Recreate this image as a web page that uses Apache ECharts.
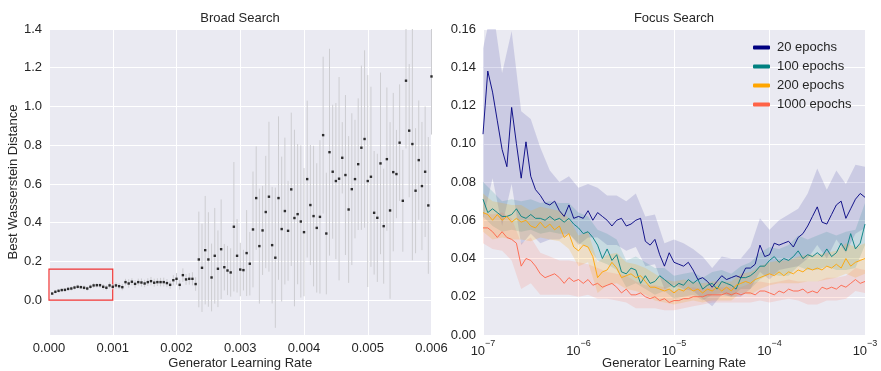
<!DOCTYPE html>
<html>
<head>
<meta charset="utf-8">
<title>Broad Search / Focus Search</title>
<script src="https://cdn.jsdelivr.net/npm/echarts@6/dist/echarts.min.js"></script>
<style>
  html, body { margin: 0; padding: 0; background: #ffffff; }
  #main { width: 881px; height: 371px; }
</style>
</head>
<body>
<div id="main"></div>
<script>
// ---- broad search: mean best distance and spread per learning rate ----
var broadStep = 0.00005; // spacing of the sweep
var broadValues = [
  0.034, 0.043, 0.048, 0.052, 0.053, 0.058, 0.060, 0.065, 0.069, 0.067,
  0.064, 0.060, 0.069, 0.076, 0.077, 0.077, 0.069, 0.064, 0.076, 0.069,
  0.076, 0.072, 0.067, 0.093, 0.086, 0.095, 0.084, 0.093, 0.091, 0.086,
  0.093, 0.098, 0.090, 0.093, 0.093, 0.093, 0.088, 0.079, 0.103, 0.110,
  0.079, 0.129, 0.107, 0.110,
  0.110, 0.083, 0.210, 0.167, 0.258, 0.210, 0.117, 0.229, 0.162, 0.263,
  0.170, 0.153, 0.143, 0.379, 0.229, 0.158, 0.155, 0.243, 0.188, 0.365,
  0.527, 0.279, 0.360, 0.455, 0.534, 0.284, 0.219, 0.527, 0.367, 0.460,
  0.358, 0.572, 0.424, 0.444, 0.406, 0.351, 0.625, 0.491, 0.434, 0.373,
  0.430, 0.852, 0.344, 0.764, 0.663, 0.615, 0.627, 0.735, 0.646, 0.468,
  0.573, 0.625, 0.702, 0.787, 0.832, 0.615, 0.637, 0.451, 0.425, 0.706,
  0.382, 0.728, 0.463, 0.661, 0.651, 0.813, 0.513, 1.133, 0.875, 0.806,
  0.565, 0.723, 0.589, 0.663, 0.489, 1.155
];
var broadErrors = [
  0.006, 0.008, 0.008, 0.008, 0.009, 0.009, 0.010, 0.010, 0.011, 0.010,
  0.012, 0.011, 0.012, 0.013, 0.012, 0.013, 0.014, 0.013, 0.015, 0.014,
  0.016, 0.015, 0.016, 0.017, 0.022, 0.018, 0.020, 0.018, 0.021, 0.019,
  0.020, 0.022, 0.021, 0.020, 0.022, 0.023, 0.021, 0.020, 0.026, 0.030,
  0.025, 0.035, 0.028, 0.030,
  0.034, 0.035, 0.247, 0.228, 0.280, 0.244, 0.175, 0.247, 0.198, 0.257,
  0.120, 0.127, 0.125, 0.334, 0.190, 0.138, 0.105, 0.222, 0.164, 0.299,
  0.267, 0.297, 0.230, 0.290, 0.387, 0.301, 0.362, 0.422, 0.374, 0.379,
  0.258, 0.396, 0.456, 0.362, 0.393, 0.331, 0.405, 0.310, 0.363, 0.334,
  0.396, 0.405, 0.314, 0.534, 0.346, 0.403, 0.525, 0.184, 0.413, 0.379,
  0.392, 0.306, 0.340, 0.424, 0.458, 0.547, 0.465, 0.319, 0.331, 0.469,
  0.297, 0.370, 0.456, 0.409, 0.228, 0.301, 0.263, 0.350, 0.344, 0.600,
  0.323, 0.308, 0.331, 0.337, 0.353, 0.300
];
var broadRates = broadValues.map(function (v, i) { return +(broadStep * (i + 1)).toFixed(5); });
var zoomBox = [0, 0.001, 0, 0.16]; // x0, x1, y0, y1 of the focus region

// ---- focus search: log-spaced learning rates 1e-7 .. 1e-3 ----
var focusExpStep = 0.05;
var bandExpStep = 0.1;
var epochs20 = [
  0.105, 0.138, 0.127, 0.112, 0.097, 0.088, 0.119, 0.100, 0.082, 0.101, 0.083,
  0.076, 0.073, 0.069, 0.068, 0.070, 0.065, 0.062, 0.068, 0.061, 0.062,
  0.061, 0.065, 0.060, 0.064, 0.062, 0.060, 0.057, 0.060, 0.061, 0.057,
  0.058, 0.060, 0.061, 0.049, 0.047, 0.050, 0.042, 0.036, 0.043, 0.038,
  0.037, 0.036, 0.038, 0.034, 0.029, 0.030, 0.028, 0.025, 0.028, 0.031,
  0.029, 0.030, 0.031, 0.030, 0.035, 0.035, 0.037, 0.047, 0.041, 0.042,
  0.048, 0.047, 0.048, 0.049, 0.046, 0.051, 0.053, 0.057, 0.062, 0.067,
  0.059, 0.058, 0.063, 0.068, 0.070, 0.061, 0.066, 0.071, 0.074, 0.072
];
var epochs100 = [
  0.071, 0.064, 0.066, 0.064, 0.062, 0.062, 0.063, 0.066, 0.062, 0.061, 0.063,
  0.061, 0.061, 0.060, 0.062, 0.060, 0.061, 0.059, 0.061, 0.058, 0.056,
  0.053, 0.054, 0.051, 0.047, 0.040, 0.045, 0.039, 0.042, 0.033, 0.032,
  0.035, 0.034, 0.027, 0.031, 0.027, 0.028, 0.031, 0.029, 0.027, 0.025,
  0.027, 0.026, 0.029, 0.027, 0.029, 0.024, 0.026, 0.027, 0.024, 0.028,
  0.027, 0.026, 0.024, 0.030, 0.030, 0.031, 0.033, 0.036, 0.036, 0.039,
  0.041, 0.038, 0.040, 0.039, 0.041, 0.044, 0.040, 0.042, 0.041, 0.043,
  0.041, 0.045, 0.041, 0.043, 0.048, 0.044, 0.053, 0.045, 0.048, 0.058
];
var epochs200 = [
  0.064, 0.063, 0.060, 0.063, 0.060, 0.062, 0.059, 0.061, 0.059, 0.060, 0.057,
  0.056, 0.059, 0.056, 0.058, 0.055, 0.057, 0.051, 0.053, 0.046, 0.044,
  0.047, 0.046, 0.041, 0.030, 0.033, 0.034, 0.038, 0.035, 0.030, 0.031,
  0.032, 0.030, 0.031, 0.028, 0.025, 0.025, 0.024, 0.023, 0.024, 0.022,
  0.024, 0.023, 0.025, 0.023, 0.024, 0.022, 0.024, 0.023, 0.025, 0.023,
  0.025, 0.023, 0.026, 0.027, 0.028, 0.027, 0.029, 0.030, 0.031, 0.032,
  0.031, 0.033, 0.031, 0.033, 0.032, 0.034, 0.033, 0.035, 0.034, 0.035,
  0.034, 0.036, 0.035, 0.037, 0.035, 0.040, 0.036, 0.038, 0.039, 0.040
];
var epochs1000 = [
  0.056, 0.056, 0.054, 0.051, 0.054, 0.051, 0.050, 0.048, 0.036, 0.040, 0.039,
  0.036, 0.032, 0.030, 0.031, 0.032, 0.030, 0.027, 0.030, 0.028, 0.029,
  0.027, 0.029, 0.026, 0.027, 0.025, 0.026, 0.027, 0.025, 0.022, 0.024,
  0.021, 0.021, 0.022, 0.020, 0.019, 0.020, 0.018, 0.019, 0.017, 0.018,
  0.018, 0.019, 0.019, 0.020, 0.020, 0.020, 0.021, 0.021, 0.021, 0.021,
  0.022, 0.021, 0.022, 0.021, 0.022, 0.022, 0.021, 0.023, 0.023, 0.022,
  0.021, 0.023, 0.022, 0.024, 0.023, 0.023, 0.024, 0.022, 0.023, 0.022,
  0.025, 0.024, 0.025, 0.024, 0.026, 0.025, 0.027, 0.029, 0.027, 0.028
];
// half widths of the shaded spread, every second rate
var band20 = [
  0.045, 0.045, 0.040, 0.040, 0.035, 0.030, 0.025, 0.018, 0.015, 0.015, 0.015,
  0.014, 0.013, 0.013, 0.013, 0.013, 0.014, 0.013, 0.013, 0.012, 0.012,
  0.012, 0.011, 0.011, 0.010, 0.010, 0.010, 0.010, 0.011, 0.014, 0.013,
  0.013, 0.014, 0.015, 0.017, 0.020, 0.018, 0.018, 0.018, 0.018, 0.016
];
var band100 = [
  0.009, 0.009, 0.008, 0.008, 0.008, 0.008, 0.008, 0.008, 0.008, 0.008, 0.008,
  0.008, 0.008, 0.008, 0.008, 0.007, 0.007, 0.007, 0.007, 0.006, 0.006,
  0.006, 0.006, 0.006, 0.006, 0.006, 0.006, 0.006, 0.007, 0.007, 0.007,
  0.007, 0.008, 0.008, 0.008, 0.009, 0.009, 0.009, 0.010, 0.010, 0.011
];
var band200 = [
  0.010, 0.010, 0.009, 0.009, 0.009, 0.008, 0.008, 0.008, 0.008, 0.008, 0.008,
  0.008, 0.008, 0.008, 0.008, 0.007, 0.007, 0.007, 0.007, 0.006, 0.006,
  0.006, 0.005, 0.005, 0.005, 0.005, 0.005, 0.005, 0.006, 0.006, 0.006,
  0.006, 0.006, 0.007, 0.007, 0.007, 0.007, 0.007, 0.008, 0.008, 0.008
];
var band1000 = [
  0.008, 0.009, 0.010, 0.011, 0.012, 0.012, 0.011, 0.010, 0.009, 0.009, 0.009,
  0.008, 0.008, 0.007, 0.007, 0.007, 0.007, 0.006, 0.006, 0.006, 0.005,
  0.005, 0.005, 0.004, 0.004, 0.004, 0.004, 0.004, 0.005, 0.005, 0.005,
  0.005, 0.005, 0.005, 0.006, 0.006, 0.006, 0.006, 0.006, 0.006, 0.006
];
var focusRates = epochs20.map(function (v, k) { return Math.pow(10, -7 + focusExpStep * k); });
var bandRates = band20.map(function (v, j) { return Math.pow(10, -7 + bandExpStep * j); });

var textColor = '#262626';
var font = 'Liberation Sans, Arial, sans-serif';
var supers = { '-': '\u2212' };

function lineSeries(name, values, color) {
    return {
        name: name,
        type: 'line',
        xAxisIndex: 1,
        yAxisIndex: 1,
        symbol: 'none',
        color: color,
        lineStyle: { width: 0.9, color: color },
        z: 5,
        data: values.map(function (v, k) { return [focusRates[k], v]; })
    };
}

function bandSeries(values, band, fill) {
    var pts = band.map(function (h, j) {
        return [bandRates[j], values[2 * j] - h, values[2 * j] + h];
    });
    return {
        type: 'custom',
        xAxisIndex: 1,
        yAxisIndex: 1,
        clip: true,
        silent: true,
        z: 2,
        encode: { x: 0, y: [1, 2] },
        data: pts,
        renderItem: function (params, api) {
            if (params.dataIndex !== 0) return null;
            var upper = pts.map(function (p) { return api.coord([p[0], p[2]]); });
            var lower = pts.map(function (p) { return api.coord([p[0], p[1]]); }).reverse();
            return {
                type: 'polygon',
                shape: { points: upper.concat(lower) },
                style: { fill: fill, stroke: null }
            };
        }
    };
}

var chart = echarts.init(document.getElementById('main'), null, { renderer: 'canvas' });

var option = {
    animation: false,
    backgroundColor: '#ffffff',
    textStyle: { fontFamily: font, color: textColor },
    graphic: [
        { type: 'text', x: 240, y: 18, style: { text: 'Broad Search', fontFamily: font, fontSize: 13, fill: textColor, textAlign: 'center', textVerticalAlign: 'middle' } },
        { type: 'text', x: 674, y: 18, style: { text: 'Focus Search', fontFamily: font, fontSize: 13, fill: textColor, textAlign: 'center', textVerticalAlign: 'middle' } }
    ],
    grid: [
        { left: 49, right: 449.5, top: 29, bottom: 36, show: true, backgroundColor: '#EAEAF2', borderWidth: 0, outerBoundsMode: 'none', containLabel: false },
        { left: 483, right: 16, top: 29, bottom: 36, show: true, backgroundColor: '#EAEAF2', borderWidth: 0, outerBoundsMode: 'none', containLabel: false }
    ],
    legend: {
        left: 748,
        top: 36,
        orient: 'vertical',
        icon: 'roundRect',
        itemWidth: 17,
        itemHeight: 4,
        itemGap: 6,
        textStyle: { fontFamily: font, fontSize: 13, color: textColor, padding: [0, 0, 0, 2] },
        data: ['20 epochs', '100 epochs', '200 epochs', '1000 epochs']
    },
    xAxis: [
        {
            type: 'value', gridIndex: 0, min: 0, max: 0.006, interval: 0.001,
            name: 'Generator Learning Rate', nameLocation: 'middle', nameGap: 22, nameMoveOverlap: false,
            nameTextStyle: { fontFamily: font, fontSize: 13, color: textColor },
            axisLine: { show: false }, axisTick: { show: false },
            axisLabel: { fontFamily: font, fontSize: 13, color: textColor, margin: 7,
                formatter: function (v) { return v.toFixed(3); } },
            splitLine: { show: true, lineStyle: { color: '#ffffff', width: 1 } }
        },
        {
            type: 'log', logBase: 10, gridIndex: 1, min: 1e-7, max: 1e-3,
            name: 'Generator Learning Rate', nameLocation: 'middle', nameGap: 22, nameMoveOverlap: false,
            nameTextStyle: { fontFamily: font, fontSize: 13, color: textColor },
            axisLine: { show: false }, axisTick: { show: false }, minorTick: { show: false },
            axisLabel: {
                margin: 4,
                formatter: function (v) {
                    var e = String(Math.round(Math.log10(v))).replace('-', supers['-']);
                    return '{b|10}{s|' + e + '}';
                },
                rich: {
                    b: { fontFamily: font, fontSize: 13, color: textColor, verticalAlign: 'bottom', lineHeight: 19 },
                    s: { fontFamily: font, fontSize: 9, color: textColor, verticalAlign: 'top', lineHeight: 19 }
                }
            },
            splitLine: { show: true, lineStyle: { color: '#ffffff', width: 1 } }
        }
    ],
    yAxis: [
        {
            type: 'value', gridIndex: 0, min: -0.18, max: 1.4, splitNumber: 7,
            name: 'Best Wasserstein Distance', nameLocation: 'middle', nameGap: 29, nameMoveOverlap: false,
            nameTextStyle: { fontFamily: font, fontSize: 13, color: textColor },
            axisLine: { show: false }, axisTick: { show: false },
            axisLabel: { fontFamily: font, fontSize: 13, color: textColor, margin: 7,
                formatter: function (v) { return v < -0.01 ? '' : v.toFixed(1); } },
            splitLine: { show: true, showMinLine: false, lineStyle: { color: '#ffffff', width: 1 } }
        },
        {
            type: 'value', gridIndex: 1, min: 0, max: 0.16, interval: 0.02,
            axisLine: { show: false }, axisTick: { show: false },
            axisLabel: { fontFamily: font, fontSize: 13, color: textColor, margin: 7,
                formatter: function (v) { return v.toFixed(2); } },
            splitLine: { show: true, showMinLine: false, lineStyle: { color: '#ffffff', width: 1 } }
        }
    ],
    series: [
        {
            type: 'custom',
            xAxisIndex: 0,
            yAxisIndex: 0,
            clip: true,
            silent: true,
            z: 2,
            encode: { x: 0, y: 1 },
            data: broadRates.map(function (x, i) { return [x, broadValues[i], broadErrors[i]]; }),
            renderItem: function (params, api) {
                var x = api.value(0), m = api.value(1), e = api.value(2);
                var a = api.coord([x, m - e]);
                var b = api.coord([x, m + e]);
                return {
                    type: 'line',
                    shape: { x1: a[0], y1: a[1], x2: b[0], y2: b[1] },
                    style: { stroke: '#cdcdd1', lineWidth: 1 }
                };
            }
        },
        {
            type: 'scatter',
            xAxisIndex: 0,
            yAxisIndex: 0,
            symbol: 'rect',
            symbolSize: 2.4,
            itemStyle: { color: '#000000' },
            z: 4,
            data: broadRates.map(function (x, i) { return [x, broadValues[i]]; }),
            markArea: {
                silent: true,
                itemStyle: { color: 'rgba(0,0,0,0)', borderColor: '#ee3333', borderWidth: 1.2 },
                data: [[{ coord: [zoomBox[0], zoomBox[2]] }, { coord: [zoomBox[1], zoomBox[3]] }]]
            }
        },
        bandSeries(epochs20, band20, 'rgba(0,0,128,0.13)'),
        bandSeries(epochs100, band100, 'rgba(0,128,128,0.15)'),
        bandSeries(epochs200, band200, 'rgba(255,165,0,0.18)'),
        bandSeries(epochs1000, band1000, 'rgba(255,99,71,0.15)'),
        lineSeries('20 epochs', epochs20, '#000080'),
        lineSeries('100 epochs', epochs100, '#008080'),
        lineSeries('200 epochs', epochs200, '#FFA500'),
        lineSeries('1000 epochs', epochs1000, '#FF6347')
    ]
};

chart.setOption(option);
</script>
</body>
</html>
